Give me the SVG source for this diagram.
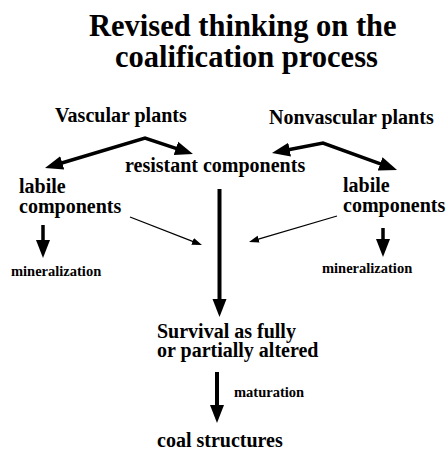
<svg xmlns="http://www.w3.org/2000/svg" width="448" height="450" viewBox="0 0 448 450">
  <style>
    text { font-family: "Liberation Serif", "Times New Roman", serif; font-weight: bold; fill: #000; }
    .title { font-size: 30.5px; }
    .lbl { font-size: 20px; }
    .sm { font-size: 14.5px; }
    .thick { fill: none; stroke: #000; stroke-width: 3.5; stroke-linejoin: miter; }
    .heavy { fill: none; stroke: #000; stroke-width: 4; }
    .thin { fill: none; stroke: #000; stroke-width: 1.3; }
  </style>
  <defs>
    <marker id="big" markerUnits="userSpaceOnUse" markerWidth="20" markerHeight="16" viewBox="0 -8 20 16" refX="4" refY="0" orient="auto-start-reverse">
      <path d="M0,-7 L18,0 L0,7 z" fill="#000"/>
    </marker>
    <marker id="small" markerUnits="userSpaceOnUse" markerWidth="12" markerHeight="8" viewBox="0 -4 12 8" refX="2" refY="0" orient="auto-start-reverse">
      <path d="M0,-3.5 L10,0 L0,3.5 z" fill="#000"/>
    </marker>
  </defs>

  <g id="title">
    <text class="title" x="89" y="36">Revised thinking on the</text>
    <text class="title" x="115" y="67">coalification process</text>
  </g>

  <g id="connectors">
    <path class="thick" d="M58.4,164 L145,138 L179.7,149.6" marker-start="url(#big)" marker-end="url(#big)"/>
    <path class="thick" d="M285.7,150.3 L323,143 L383.9,165.2" marker-start="url(#big)" marker-end="url(#big)"/>
    <line class="thick" x1="43" y1="225" x2="43" y2="244" marker-end="url(#big)"/>
    <line class="thick" x1="383" y1="228" x2="383" y2="243" marker-end="url(#big)"/>
    <line class="heavy" x1="219.5" y1="189" x2="219.5" y2="303" marker-end="url(#big)"/>
    <line class="heavy" x1="217" y1="372" x2="217" y2="409" marker-end="url(#big)"/>
    <line class="thin" x1="130" y1="217" x2="194.5" y2="242.1" marker-end="url(#small)"/>
    <line class="thin" x1="337" y1="216" x2="256.7" y2="239.7" marker-end="url(#small)"/>
  </g>

  <g id="vascular">
    <text class="lbl" x="55" y="122">Vascular plants</text>
  </g>
  <g id="nonvascular">
    <text class="lbl" x="269" y="124">Nonvascular plants</text>
  </g>
  <g id="resistant">
    <text class="lbl" x="125" y="172">resistant components</text>
  </g>
  <g id="labile-left">
    <text class="lbl" x="19" y="193">labile</text>
    <text class="lbl" x="19" y="213">components</text>
  </g>
  <g id="labile-right">
    <text class="lbl" x="343" y="192">labile</text>
    <text class="lbl" x="343" y="212">components</text>
  </g>
  <g id="mineral-left">
    <text class="sm" x="11" y="276">mineralization</text>
  </g>
  <g id="mineral-right">
    <text class="sm" x="322" y="273">mineralization</text>
  </g>
  <g id="survival">
    <text class="lbl" x="157" y="338">Survival as fully</text>
    <text class="lbl" x="157" y="357">or partially altered</text>
  </g>
  <g id="maturation-label">
    <text class="sm" x="234" y="397">maturation</text>
  </g>
  <g id="coal">
    <text class="lbl" x="157" y="447">coal structures</text>
  </g>
</svg>
